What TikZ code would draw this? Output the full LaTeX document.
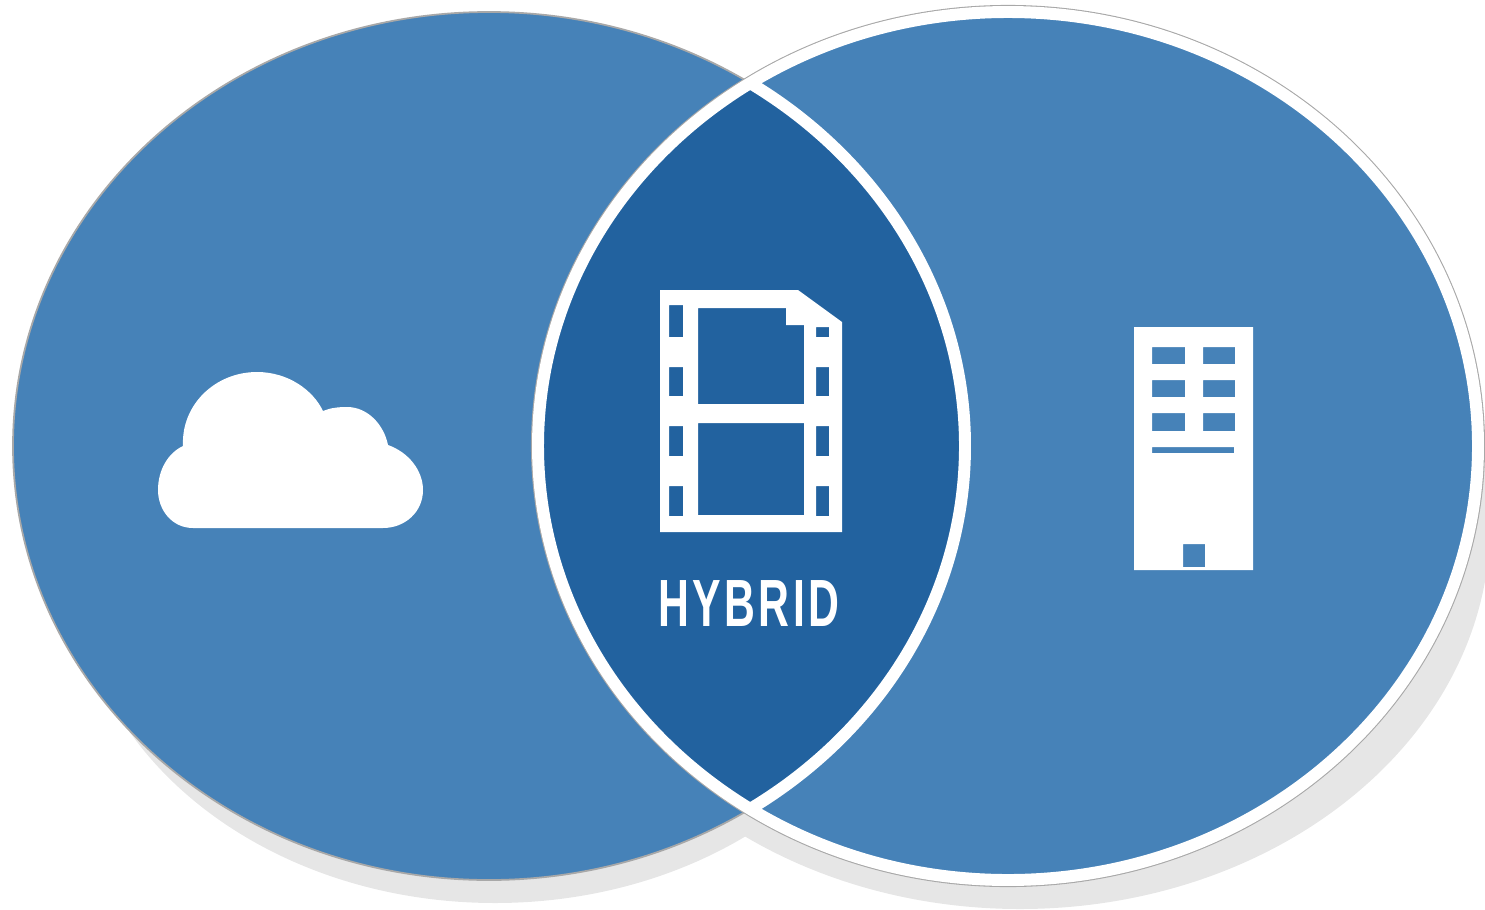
\documentclass[tikz,border=0pt]{standalone}
\usepackage{fontspec}
\newfontfamily\hybridfont[FakeStretch=0.64,LetterSpace=5]{Liberation Sans}
\definecolor{disc}{HTML}{4682B8}
\definecolor{lens}{HTML}{22629F}
\definecolor{dropshade}{HTML}{E6E6E6}
\definecolor{rim}{HTML}{A8A8A8}
\tikzset{
    ring/.style={draw=white,line width=3.4pt},
    icon/.style={fill=white,even odd rule}
}
\begin{document}
\begin{tikzpicture}[x=0.01cm,y=-0.01cm]
\useasboundingbox (0,0) rectangle (1485,909);
% shadows
\fill[dropshade] (495,565) ellipse [x radius=420,y radius=338];
\fill[dropshade] (1020,525) ellipse [x radius=470,y radius=384];
% discs
\fill[disc] (489,446) ellipse [x radius=476,y radius=434];
\draw[rim,line width=0.5pt] (489,446) ellipse [x radius=476,y radius=434];
\draw[rim,fill=white,line width=0.6pt] (1008,446) ellipse [x radius=476,y radius=440];
\fill[disc] (1008,446) ellipse [x radius=470,y radius=434];
% overlap
\begin{scope}
\clip (1008,446) ellipse [x radius=470,y radius=434];
\fill[lens] (489,446) ellipse [x radius=476,y radius=434];
\draw[ring] (489,446) ellipse [x radius=476,y radius=434];
\end{scope}
\draw[ring] (1008,446) ellipse [x radius=470,y radius=434];
% cloud
\fill[white] (193,528) .. controls (172,528) and (158,510) .. (158,490)
    .. controls (158,470) and (168,453) .. (183,446)
    .. controls (181,405) and (215,372) .. (257,372)
    .. controls (288,372) and (313,390) .. (323,411)
    .. controls (330,408) and (338,407) .. (347,407)
    .. controls (368,407) and (384,425) .. (388,445)
    .. controls (408,452) and (423,470) .. (423,490)
    .. controls (423,512) and (405,528) .. (383,528) -- cycle;
% film
\fill[icon] (660,290) -- (798,290) -- (842,322) -- (842,532) -- (660,532) -- cycle
    (698,308) -- (786,308) -- (786,325) -- (804,325) -- (804,404) -- (698,404) -- cycle
    (698,423) rectangle (804,515)
    (816,327) rectangle (829,337)
    (669,305) rectangle (683,337)
    (669,367) rectangle (683,396) (816,367) rectangle (829,396)
    (669,426) rectangle (683,456) (816,426) rectangle (829,456)
    (669,486) rectangle (683,516) (816,486) rectangle (829,516);
\node[white,inner sep=0pt] (hybrid) at (749,604) {\hybridfont\bfseries\fontsize{19}{19}\selectfont HYBRID};
% building
\fill[icon] (1134,327) rectangle (1253,570)
    (1152,347) rectangle (1185,364) (1203,347) rectangle (1235,364)
    (1152,380) rectangle (1185,397) (1203,380) rectangle (1235,397)
    (1152,413) rectangle (1185,431) (1203,413) rectangle (1235,431)
    (1152,447) rectangle (1234,453)
    (1183,544) rectangle (1205,567);
\end{tikzpicture}
\end{document}
